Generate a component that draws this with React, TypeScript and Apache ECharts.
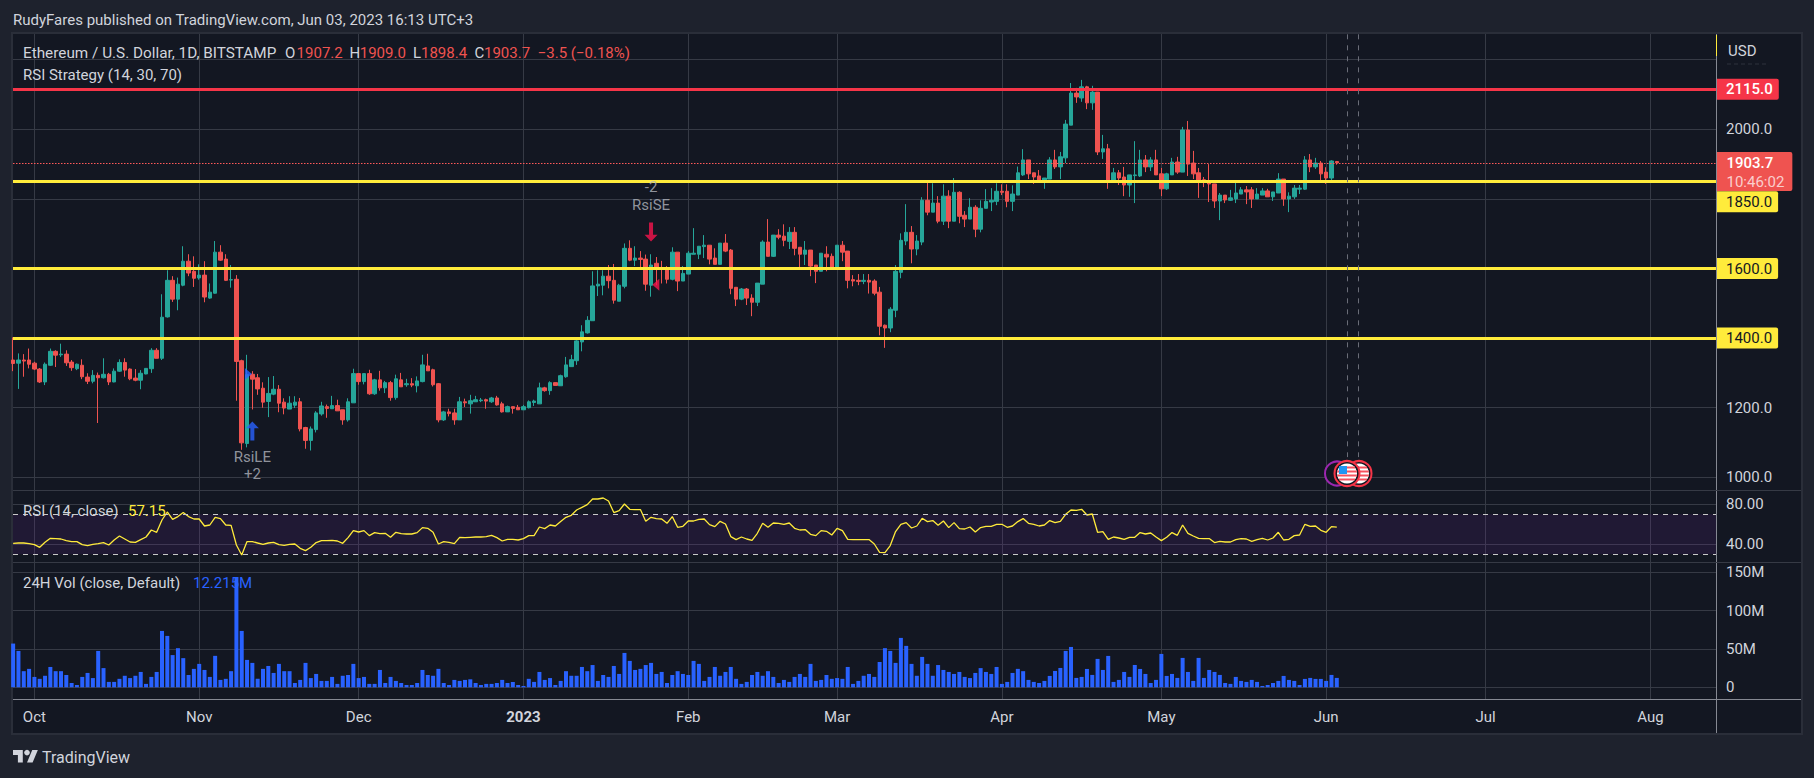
import React, { useEffect, useRef } from "react";
import * as echarts from "echarts";

const FONT = "Roboto, 'Liberation Sans', sans-serif";
const UP = "#26a69a";
const DOWN = "#ef5350";
const RED = "#f63548";
const YELLOW = "#ffeb3b";
const BLUE = "#2962ff";
const GRID = "#363a45";
const AXIS = "#868993";
const LABEL = "#d1d4dc";

const firstDay = -4;

const monthDays = [0, 31, 61, 92, 123, 151, 182, 212, 243, 273, 304];
const monthLabels = ["Oct", "Nov", "Dec", "2023", "Feb", "Mar", "Apr", "May", "Jun", "Jul", "Aug"];

const priceGridLines = [1000, 1200, 1400, 1600, 1800, 2000, 2200];
const priceTickLabels = [1000, 1200, 2000];
const rsiTicks = [40, 80];
const volTicks = [0, 50, 100, 150];
const levels1 = [1850, 1600, 1400];

// open, high, low, close
const ohlc = [
  [1337,1402,1305,1327],[1328,1356,1254,1337],[1337,1354,1289,1334],[1337,1370,1313,1325],
  [1328,1332,1308,1311],[1311,1314,1271,1274],[1274,1330,1265,1325],[1322,1370,1320,1362],
  [1362,1365,1317,1351],[1352,1384,1346,1354],[1354,1365,1320,1329],[1331,1337,1306,1315],
  [1312,1327,1308,1325],[1322,1339,1282,1289],[1288,1299,1268,1276],[1276,1308,1270,1293],
  [1293,1301,1156,1286],[1286,1342,1284,1296],[1296,1300,1265,1274],[1274,1313,1273,1305],
  [1305,1339,1303,1330],[1330,1342,1289,1308],[1311,1313,1279,1283],[1285,1311,1276,1279],
  [1279,1308,1253,1299],[1297,1314,1296,1313],[1312,1371,1300,1365],[1365,1371,1342,1342],
  [1342,1526,1337,1460],[1461,1595,1459,1566],[1566,1578,1504,1512],[1512,1574,1480,1555],
  [1552,1664,1549,1621],[1621,1641,1578,1587],[1592,1635,1547,1572],[1573,1612,1568,1581],
  [1581,1621,1503,1518],[1515,1557,1513,1532],[1529,1679,1528,1647],[1647,1667,1622,1624],
  [1627,1641,1564,1566],[1567,1610,1545,1568],[1569,1581,1220,1333],[1335,1338,1079,1099],
  [1097,1352,1086,1295],[1296,1305,1195,1282],[1286,1297,1237,1254],[1256,1273,1200,1216],
  [1218,1288,1173,1241],[1239,1291,1236,1253],[1253,1265,1187,1213],[1216,1227,1181,1199],
  [1196,1233,1196,1213],[1207,1233,1199,1216],[1217,1228,1132,1139],[1143,1145,1082,1106],
  [1106,1146,1077,1139],[1137,1190,1129,1185],[1182,1217,1177,1205],[1203,1209,1171,1198],
  [1197,1234,1197,1206],[1206,1223,1191,1191],[1194,1194,1151,1165],[1165,1227,1160,1217],
  [1214,1312,1214,1298],[1298,1298,1266,1275],[1275,1298,1267,1298],[1298,1309,1237,1240],
  [1240,1283,1237,1280],[1280,1306,1249,1257],[1257,1277,1242,1272],[1272,1277,1220,1229],
  [1229,1295,1223,1283],[1280,1300,1260,1260],[1266,1283,1260,1269],[1269,1285,1259,1265],
  [1263,1290,1244,1277],[1275,1352,1273,1323],[1320,1355,1306,1306],[1309,1312,1261,1266],
  [1269,1271,1158,1165],[1165,1191,1162,1188],[1188,1197,1175,1183],[1185,1197,1151,1165],
  [1165,1231,1165,1217],[1217,1226,1202,1214],[1211,1237,1183,1220],[1217,1234,1217,1223],
  [1220,1228,1216,1222],[1223,1226,1197,1219],[1217,1231,1214,1228],[1228,1234,1206,1208],
  [1211,1217,1186,1188],[1188,1206,1188,1203],[1203,1203,1183,1198],[1201,1208,1194,1194],
  [1194,1208,1194,1203],[1200,1221,1198,1217],[1215,1223,1205,1219],[1211,1272,1211,1257],
  [1257,1260,1246,1249],[1249,1276,1237,1272],[1272,1272,1264,1264],[1263,1295,1263,1292],
  [1289,1346,1286,1323],[1318,1352,1318,1338],[1335,1395,1323,1392],[1389,1437,1362,1418],
  [1415,1463,1413,1451],[1450,1592,1450,1550],[1550,1595,1521,1555],[1552,1595,1523,1578],
  [1578,1610,1543,1565],[1566,1613,1499,1509],[1506,1556,1506,1552],[1549,1672,1543,1658],
  [1658,1681,1621,1624],[1624,1664,1607,1630],[1630,1650,1597,1626],[1627,1640,1536,1555],
  [1552,1641,1519,1610],[1615,1633,1552,1604],[1603,1622,1557,1600],[1600,1607,1557,1569],
  [1569,1661,1566,1647],[1647,1647,1535,1564],[1564,1607,1564,1586],[1584,1650,1584,1644],
  [1641,1716,1641,1644],[1641,1664,1627,1664],[1663,1696,1630,1667],[1667,1667,1612,1627],
  [1630,1658,1612,1612],[1612,1673,1612,1673],[1673,1699,1647,1650],[1653,1656,1526,1543],
  [1546,1546,1492,1512],[1512,1544,1509,1541],[1541,1544,1495,1515],[1515,1526,1463,1503],
  [1503,1558,1492,1558],[1555,1681,1555,1676],[1676,1742,1635,1635],[1635,1696,1633,1696],
  [1696,1713,1684,1690],[1693,1727,1664,1681],[1678,1719,1656,1704],[1704,1719,1638,1658],
  [1661,1661,1601,1641],[1641,1679,1610,1653],[1653,1653,1578,1607],[1610,1610,1558,1592],
  [1592,1644,1592,1644],[1641,1664,1592,1633],[1635,1643,1599,1601],[1601,1667,1599,1667],
  [1667,1679,1621,1647],[1650,1650,1543,1566],[1568,1581,1549,1564],[1566,1584,1552,1563],
  [1563,1584,1555,1566],[1566,1584,1528,1561],[1564,1569,1523,1529],[1532,1547,1408,1434],
  [1437,1439,1372,1429],[1429,1489,1417,1483],[1480,1610,1460,1592],[1589,1701,1572,1681],
  [1679,1785,1667,1704],[1704,1722,1615,1656],[1656,1696,1638,1679],[1676,1805,1667,1796],
  [1796,1848,1753,1762],[1762,1845,1762,1788],[1788,1808,1730,1736],[1736,1842,1725,1808],
  [1808,1825,1716,1736],[1736,1860,1736,1819],[1819,1822,1730,1750],[1753,1765,1719,1742],
  [1742,1802,1742,1776],[1776,1782,1690,1713],[1713,1796,1704,1773],[1773,1828,1773,1793],
  [1791,1831,1765,1796],[1793,1845,1782,1822],[1822,1842,1811,1819],[1822,1842,1776,1793],
  [1793,1839,1765,1814],[1811,1893,1811,1875],[1869,1943,1866,1912],[1912,1912,1857,1872],
  [1875,1875,1843,1863],[1866,1883,1854,1854],[1854,1860,1829,1860],[1857,1920,1857,1912],
  [1912,1941,1886,1892],[1892,1935,1857,1921],[1918,2027,1903,2015],[2012,2133,2012,2104],
  [2104,2119,2076,2093],[2090,2142,2079,2122],[2122,2125,2058,2076],[2076,2125,2056,2107],
  [2107,2107,1926,1935],[1935,1984,1915,1944],[1944,1958,1829,1854],[1854,1889,1854,1875],
  [1875,1883,1840,1860],[1863,1892,1808,1840],[1840,1869,1806,1869],[1867,1966,1788,1869],
  [1866,1941,1863,1912],[1912,1926,1877,1892],[1892,1920,1880,1912],[1912,1941,1869,1869],
  [1872,1889,1808,1829],[1829,1875,1826,1872],[1869,1918,1869,1906],[1906,1921,1872,1877],
  [1877,2007,1877,1998],[1998,2024,1866,1900],[1903,1938,1857,1872],[1875,1889,1803,1854],
  [1855,1863,1834,1851],[1846,1900,1791,1843],[1843,1843,1774,1794],[1794,1817,1739,1811],
  [1811,1811,1788,1797],[1796,1826,1794,1803],[1800,1846,1788,1817],[1814,1834,1814,1826],
  [1826,1837,1785,1820],[1826,1834,1774,1800],[1800,1831,1800,1814],[1811,1831,1811,1823],
  [1823,1829,1806,1806],[1806,1820,1794,1820],[1817,1874,1817,1857],[1857,1857,1780,1800],
  [1800,1819,1762,1808],[1806,1840,1800,1831],[1828,1840,1814,1831],[1828,1923,1826,1912],
  [1912,1929,1877,1892],[1892,1918,1886,1903],[1903,1909,1854,1872],[1877,1891,1843,1860],
  [1860,1911,1854,1909],[1907.2,1909,1898.4,1903.7],
];

const rsiValues = [
  41.0,41.3,41.3,40.7,39.7,37.0,42.0,46.0,45.7,45.3,
  43.7,42.7,42.7,39.7,38.7,40.0,40.7,41.7,39.3,44.3,
  48.3,45.3,42.3,42.0,44.7,47.3,54.3,52.0,64.3,72.3,
  65.0,67.7,71.7,67.7,65.3,65.3,58.3,59.3,67.0,65.7,
  59.3,59.0,39.3,29.3,42.7,42.7,41.3,40.0,41.3,42.0,
  39.7,39.0,40.0,40.3,36.0,33.7,37.0,41.7,43.7,43.7,
  44.0,43.3,41.0,46.7,53.7,52.3,53.7,48.7,51.7,50.7,
  51.0,47.0,52.0,50.7,50.3,50.3,51.7,56.7,56.0,52.0,
  40.3,42.7,42.0,40.7,47.0,46.7,47.0,47.3,47.3,47.7,
  49.0,46.7,43.3,45.0,45.0,44.3,
  45.7,48.7,48.7,57.3,55.7,59.3,58.3,62.7,67.0,69.0,
  74.3,77.0,79.7,85.3,85.3,86.3,83.3,71.7,73.7,80.3,
  75.0,74.7,74.7,63.0,67.0,65.7,65.3,61.0,67.7,57.0,
  58.0,63.3,63.3,65.0,65.3,59.7,57.7,63.0,60.3,47.7,
  44.7,47.3,45.3,44.0,51.0,61.0,57.0,61.3,61.0,60.0,
  61.3,56.0,54.3,54.7,50.0,48.7,53.7,53.0,49.3,56.0,
  53.7,45.0,44.7,44.7,44.7,44.7,40.3,32.0,31.7,38.7,
  52.7,60.0,61.7,56.3,58.3,66.0,62.7,63.7,59.0,63.3,
  56.7,61.7,55.7,55.3,57.3,52.3,56.7,58.0,58.0,60.0,
  60.0,57.0,58.3,62.7,65.7,
  61.0,60.0,58.3,59.3,63.7,61.7,63.0,70.0,74.3,74.0,
  75.0,69.3,70.3,52.0,52.7,45.0,47.3,46.3,45.0,47.0,
  47.0,51.7,50.3,51.3,47.3,43.7,47.0,51.7,49.0,59.3,
  51.0,48.3,46.0,45.7,45.7,41.7,43.0,42.3,42.3,44.7,
  45.7,45.3,43.0,44.7,46.0,44.3,46.3,52.0,44.3,45.0,
  48.7,49.3,60.0,58.0,58.3,54.0,52.0,57.7,57.15,
];

const volumeM = [
  57,47.4,21,24,13.5,11,15,26.5,21,21,
  16,5.6,3,13.5,18.7,12,47.4,25,7,7,
  11,15,12,15,20,4.4,13.5,20,73.5,67,
  42,51,38,16,24,30.5,22.6,13.5,41,9.6,
  11,21,143.5,73.5,35.7,31.8,11,24,27.8,18.7,
  30.5,21,21,5.6,9.6,31.8,12,17.4,8.3,8.3,
  13.5,4.4,15,16,30.5,12,13.5,4.4,4.4,22.6,
  5.6,13.5,8.3,5.6,3,3,5.6,22.6,16,15,
  24,5.6,3,9.6,8.3,9.6,10.4,5.6,3,4.4,
  4.4,5.6,9.6,5.6,7,3,
  1.7,11,7,20,9.6,12,3,8.3,21,15,
  15,26.5,21,29,8.3,16,13.5,27.8,17.4,44.8,
  34.4,22.6,24,29,31.8,17.4,20,5.6,16,21,
  17.4,16,34.4,30.5,8.3,13.5,26.5,15,20,26.5,
  11,4.4,7,16,20,15,21,13.5,5.6,9.6,
  7,13.5,17.4,13.5,30.5,8.3,9.6,16,11,12,
  11,26.5,4.4,8.3,15,17.4,13.5,33,51,47.4,
  31.8,64.4,54,30.5,15,39.6,30.5,15,29,22.6,
  20,17.4,20,13.5,12,18.7,25,20,17.4,26.5,
  4.4,7,18.7,24,21,9.6,
  7,5.6,8.3,14.8,21.3,25.2,47.4,52.6,12.2,13.5,
  23.9,16.1,37,22.6,40.9,7,9.6,20,13.5,29.1,
  23.9,17.4,5.6,9.6,43.5,14.8,17.4,12.2,38.3,20,
  8.3,38.3,12.2,22.6,20,16.1,5.6,4.4,13.5,8.3,
  7,9.6,7,1.7,3,5.6,8.3,14.8,9.6,8.3,
  3,10.9,12.2,10.9,10.9,8.3,16.1,12.215,
];

echarts.graphic.registerShape(
  "tvLogo",
  echarts.graphic.extendPath("M14 22H7V11H0V4h14v18zM28 22h-8l7.5-18h8L28 22z", {}) as any
);

const ARROW_UP = "path://M6.5 0 L13 7 L8.5 7 L8.5 20 L4.5 20 L4.5 7 L0 7 Z";

function txt(text: string, x: number, y: number, fill: string, size = 15, extra: any = {}) {
  return {
    type: "text", z: 40, x, y,
    style: { text, fill, font: `${extra.weight || "normal"} ${size}px ${FONT}`, textVerticalAlign: "middle", textAlign: extra.align || "left" },
    silent: true,
  };
}

function flag(cx: number, cy: number, z: number) {
  const out: any[] = [
    { type: "circle", z, shape: { cx, cy, r: 12.5 }, style: { fill: "#131722", stroke: RED, lineWidth: 2 } },
    { type: "circle", z, shape: { cx, cy, r: 10 }, style: { fill: "#ffffff" } },
  ];
  [-7, -3, 1, 5].forEach((dy) => {
    const yy = dy + 1;
    const half = Math.sqrt(Math.max(0, 100 - yy * yy));
    out.push({ type: "rect", z, shape: { x: cx - half, y: cy + dy, width: 2 * half, height: 2 }, style: { fill: "#f7525f" } });
  });
  out.push({ type: "rect", z, shape: { x: cx - 8, y: cy - 7.5, width: 8, height: 8 }, style: { fill: "#2196f3" } });
  return out;
}

function labelStyle(bg: string, fg: string, text: string, offset?: number[], weight = "normal") {
  return {
    show: true, position: "end", distance: 0, formatter: text, color: fg, backgroundColor: bg, fontWeight: weight,
    padding: [3, 6, 3, 9.5], fontSize: 15, fontFamily: FONT, borderRadius: [0, 2, 2, 0], offset: offset || [0, 0],
  };
}

export default function App() {
  const ref = useRef<HTMLDivElement>(null);
  useEffect(() => {
    document.body.style.margin = "0";
    const chart = echarts.init(ref.current!, null, { renderer: "svg" });
    const days = ohlc.map((_, i) => firstDay + i);
    const candleData = ohlc.map((r, i) => [days[i], r[0], r[3], r[2], r[1]]);
    const xBase = { type: "value", min: -4.026, max: 316.43, axisTick: { show: false, customValues: monthDays }, axisLine: { show: false, onZero: false }, splitLine: { show: true, lineStyle: { color: GRID, width: 1 } } };
    const axisLabelBase = { color: LABEL, fontSize: 15, fontFamily: FONT, margin: 9.5 };
    const level = (v: number, offset?: number[]) => ({ yAxis: v, lineStyle: { color: YELLOW, width: 3, type: "solid" }, label: labelStyle(YELLOW, "#131722", v.toFixed(1), offset) });

    chart.setOption({
      animation: false,
      backgroundColor: "#1e222d",
      grid: [
        { left: 13, top: 34, width: 1703.5, height: 456 },
        { left: 13, top: 490, width: 1703.5, height: 72 },
        { left: 13, top: 562, width: 1703.5, height: 137 },
      ],
      xAxis: [
        { ...xBase, gridIndex: 0, axisLabel: { show: false } },
        { ...xBase, gridIndex: 1, axisLabel: { show: false } },
        {
          ...xBase, gridIndex: 2, position: "bottom",
          axisLabel: {
            show: true, customValues: monthDays, color: LABEL, fontSize: 15, fontFamily: FONT, margin: 10, hideOverlap: false,
            formatter: (v: number) => {
              const s = monthLabels[monthDays.indexOf(v)];
              return s === "2023" ? `{b|${s}}` : s;
            },
            rich: { b: { fontWeight: "bold", fontSize: 15, fontFamily: FONT, color: LABEL } },
          },
        },
      ],
      yAxis: [
        {
          type: "value", gridIndex: 0, position: "right", min: 963.5, max: 2273.9,
          axisTick: { show: false, customValues: priceGridLines }, axisLine: { show: false },
          splitLine: { show: true, lineStyle: { color: GRID } },
          axisLabel: { ...axisLabelBase, customValues: priceTickLabels, formatter: (v: number) => v.toFixed(1) },
        },
        {
          type: "value", gridIndex: 1, position: "right", min: 22.3, max: 94.3,
          axisTick: { show: false, customValues: rsiTicks }, axisLine: { show: false },
          splitLine: { show: true, lineStyle: { color: GRID } },
          axisLabel: { ...axisLabelBase, customValues: rsiTicks, formatter: (v: number) => v.toFixed(2) },
        },
        {
          type: "value", gridIndex: 2, position: "right", min: -15.3, max: 163.4,
          axisTick: { show: false, customValues: volTicks }, axisLine: { show: false },
          splitLine: { show: true, lineStyle: { color: GRID } },
          axisLabel: { ...axisLabelBase, customValues: volTicks, formatter: (v: number) => (v === 0 ? "0" : `${v}M`) },
        },
      ],
      series: [
        {
          type: "candlestick", xAxisIndex: 0, yAxisIndex: 0, barWidth: 4, data: candleData, z: 3,
          itemStyle: { color: UP, color0: DOWN, borderColor: UP, borderColor0: DOWN, borderWidth: 1 },
          markLine: {
            silent: true, symbol: "none", animation: false, z: 5,
            data: [
              { yAxis: 2115, lineStyle: { color: RED, width: 3, type: "solid" }, label: labelStyle(RED, "#ffffff", "2115.0", undefined, "500") },
              level(levels1[0], [0, 20.2]), level(levels1[1]), level(levels1[2]),
              [
                { coord: [247, 2273], lineStyle: { color: "#6a6d78", width: 1, type: [5, 6] }, label: { show: false } },
                { coord: [247, 1058] },
              ],
              [
                { coord: [249, 2273], lineStyle: { color: "#6a6d78", width: 1, type: [5, 6] }, label: { show: false } },
                { coord: [249, 1058] },
              ],
              {
                yAxis: 1903.7, lineStyle: { color: "#ff5a5a", width: 1.2, type: [1.5, 1.5] },
                label: {
                  show: true, position: "end", distance: 0, offset: [0, 8.7], backgroundColor: DOWN, padding: [1, 8, 0, 10], borderRadius: [0, 2, 2, 0],
                  formatter: "{a|1903.7}\n{b|10:46:02}",
                  rich: {
                    a: { color: "#ffffff", fontSize: 15, fontWeight: "500", fontFamily: FONT, lineHeight: 19 },
                    b: { color: "rgba(255,255,255,0.72)", fontSize: 15, fontFamily: FONT, lineHeight: 19 },
                  },
                },
              },
            ],
          },
        },
        {
          type: "scatter", xAxisIndex: 0, yAxisIndex: 0, z: 10, silent: true,
          data: [
            { value: [116, 1705], symbol: ARROW_UP, symbolSize: [13, 19], symbolRotate: 180, itemStyle: { color: "#f7144d" } },
            { value: [116.9, 1553], symbol: "triangle", symbolSize: [12, 7], symbolRotate: 90, itemStyle: { color: "#f7144d" } },
            { value: [40.25, 1297], symbol: "triangle", symbolSize: [12, 7], symbolRotate: -90, itemStyle: { color: BLUE } },
            { value: [41, 1133], symbol: ARROW_UP, symbolSize: [13, 19], itemStyle: { color: BLUE } },
          ],
        },
        {
          type: "scatter", xAxisIndex: 0, yAxisIndex: 0, z: 11, silent: true, symbolSize: 1,
          itemStyle: { color: "rgba(0,0,0,0)" },
          label: { show: true, position: "inside", color: "#b2b5be", fontSize: 15, fontFamily: FONT, formatter: (p: any) => p.name },
          data: [
            { name: "-2", value: [116, 1835] },
            { name: "RsiSE", value: [116, 1783] },
            { name: "RsiLE", value: [41, 1059] },
            { name: "+2", value: [41, 1009] },
          ],
        },
        {
          type: "line", xAxisIndex: 1, yAxisIndex: 1, showSymbol: false, z: 4, silent: true,
          lineStyle: { color: YELLOW, width: 1.3 },
          data: rsiValues.map((v, i) => [days[i], v]),
          markArea: { silent: true, itemStyle: { color: "rgba(126,40,180,0.13)" }, data: [[{ yAxis: 30 }, { yAxis: 70 }]] },
          markLine: {
            silent: true, symbol: "none", label: { show: false },
            lineStyle: { color: "#c9c9c9", width: 1, type: [5, 5] },
            data: [{ yAxis: 70 }, { yAxis: 30 }],
          },
        },
        {
          type: "bar", xAxisIndex: 2, yAxisIndex: 2, barWidth: 4, silent: true,
          itemStyle: { color: BLUE },
          data: volumeM.map((v, i) => [days[i], v]),
        },
      ],
      graphic: {
        elements: [
          { type: "rect", z: -1, shape: { x: 13, y: 34, width: 1788, height: 699 }, style: { fill: "#131722" }, silent: true },
          { type: "rect", z: -1, shape: { x: 12, y: 33, width: 1790, height: 701 }, style: { fill: "none", stroke: "#2a2e39", lineWidth: 2 }, silent: true },
          { type: "line", z: 6, shape: { x1: 1716.5, y1: 34, x2: 1716.5, y2: 733 }, style: { stroke: AXIS, lineWidth: 1 } },
          { type: "line", z: 6, shape: { x1: 13, y1: 699.5, x2: 1801, y2: 699.5 }, style: { stroke: AXIS, lineWidth: 1 } },
          { type: "line", z: 6, shape: { x1: 13, y1: 490.5, x2: 1801, y2: 490.5 }, style: { stroke: GRID, lineWidth: 1 } },
          { type: "line", z: 6, shape: { x1: 13, y1: 562.5, x2: 1801, y2: 562.5 }, style: { stroke: GRID, lineWidth: 1 } },
          { type: "line", z: 7, shape: { x1: 1716.5, y1: 35, x2: 1716.5, y2: 56 }, style: { stroke: YELLOW, lineWidth: 1 } },
          { type: "line", z: 7, shape: { x1: 1727, y1: 64, x2: 1769, y2: 64 }, style: { stroke: "#2f323c", lineWidth: 1, lineDash: [4, 3] } },

          txt("RudyFares published on TradingView.com, Jun 03, 2023 16:13 UTC+3", 13, 20, "#d1d4dc", 15),
          txt("Ethereum / U.S. Dollar, 1D, BITSTAMP", 23, 53, LABEL, 15.3),
          txt("O", 285, 53, LABEL, 15), txt("1907.2", 296.6, 53, DOWN, 15),
          txt("H", 349.4, 53, LABEL, 15), txt("1909.0", 359.7, 53, DOWN, 15),
          txt("L", 413, 53, LABEL, 15), txt("1898.4", 421, 53, DOWN, 15),
          txt("C", 474.5, 53, LABEL, 15), txt("1903.7", 484, 53, DOWN, 15),
          txt("−3.5 (−0.18%)", 537.7, 53, DOWN, 15),
          txt("RSI Strategy (14, 30, 70)", 23, 75, LABEL, 15),
          txt("RSI (14, close)", 23, 510.7, LABEL, 15), txt("57.15", 128, 510.7, YELLOW, 15),
          txt("24H Vol (close, Default)", 23, 583, LABEL, 15), txt("12.215M", 193, 583, BLUE, 15),
          txt("USD", 1728, 51, LABEL, 15),
          txt("TradingView", 42, 757, LABEL, 16),

          { type: "tvLogo", z: 40, x: 13, y: 747.2, scaleX: 0.7, scaleY: 0.7, style: { fill: LABEL } },
          { type: "circle", z: 40, shape: { cx: 27, cy: 752.6, r: 2.8 }, style: { fill: LABEL } },

          { type: "circle", z: 11, shape: { cx: 1337, cy: 473.5, r: 12 }, style: { fill: "#131722", stroke: "#9c27b0", lineWidth: 2 } },
          ...flag(1359, 473.5, 12),
          ...flag(1347, 473.5, 13),
        ],
      },
    } as any);
    return () => chart.dispose();
  }, []);
  return <div ref={ref} style={{ width: 1814, height: 778, overflow: "hidden" }} />;
}
